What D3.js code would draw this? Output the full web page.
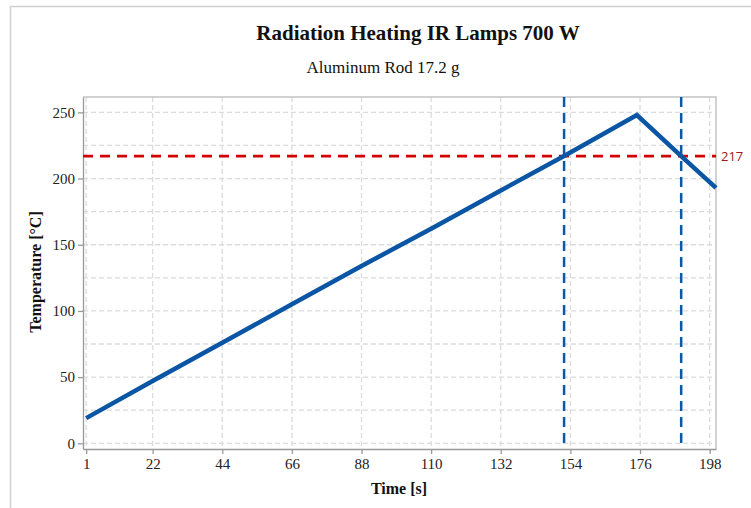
<!DOCTYPE html>
<meta charset="utf-8">
<style>
body { margin: 0; background: #fff; }
.grid line { stroke: #dcdcdc; stroke-width: 1.3; stroke-dasharray: 5,3; }
.axis text { font: 15px "Liberation Serif", serif; fill: #222; }
.axis path, .axis line { stroke: #999; stroke-width: 1.3; }
.title { font: bold 21px "Liberation Serif", serif; fill: #111; }
.subtitle { font: 17px "Liberation Serif", serif; fill: #111; }
.label { font: bold 16px "Liberation Serif", serif; fill: #111; }
</style>
<body>
<svg id="chart" width="751" height="508"></svg>
<script src="https://cdn.jsdelivr.net/npm/d3@7"></script>
<script>
// values
var times = [1, 22, 44, 66, 88, 110, 132, 152, 175, 189, 200];
var temps = [19, 47, 76, 105, 134, 162, 191, 217, 248, 217, 193];
var xTicks = [1, 22, 44, 66, 88, 110, 132, 154, 176, 198];
var yTicks = [0, 50, 100, 150, 200, 250];
var yGrid = [0, 25, 50, 75, 100, 125, 150, 175, 200, 225, 250];
var limitTemp = 217;
var crossTimes = [152, 189];

var svg = d3.select("#chart");
var plotL = 83, plotR = 716, plotT = 97, plotB = 449;

var x = d3.scaleLinear().domain([0, 200]).range([plotL, plotR]);
var y = d3.scaleLinear().domain([-4.3, 261.6]).range([plotB, plotT]);

// outer frame
svg.append("path").attr("d", "M10.5,508 V6.5 H751")
    .attr("fill", "none").attr("stroke", "#d0d0d0").attr("stroke-width", 1.5);

// grid
var grid = svg.append("g").attr("class", "grid");
grid.selectAll(".h").data(yGrid).enter().append("line")
    .attr("x1", plotL).attr("x2", plotR)
    .attr("y1", function(d) { return y(d); }).attr("y2", function(d) { return y(d); });
grid.selectAll(".v").data(xTicks).enter().append("line")
    .attr("y1", plotT).attr("y2", plotB)
    .attr("x1", function(d) { return x(d); }).attr("x2", function(d) { return x(d); });

// plot border (top/right)
svg.append("path").attr("d", "M" + plotL + "," + plotT + " H" + plotR + " V" + plotB)
    .attr("fill", "none").attr("stroke", "#c4c4c4").attr("stroke-width", 1.5);

// axes
svg.append("g").attr("class", "axis")
    .attr("transform", "translate(0," + plotB + ")")
    .call(d3.axisBottom(x).tickValues(xTicks).tickSize(5).tickSizeOuter(0).tickPadding(4));
svg.append("g").attr("class", "axis")
    .attr("transform", "translate(" + plotL + ",0)")
    .call(d3.axisLeft(y).tickValues(yTicks).tickSize(5).tickSizeOuter(0).tickPadding(3));

// limit line
svg.append("line")
    .attr("x1", plotL).attr("x2", plotR)
    .attr("y1", y(limitTemp)).attr("y2", y(limitTemp))
    .attr("stroke", "#d40000").attr("stroke-width", 2.7).attr("stroke-dasharray", "10,7");
svg.append("text")
    .attr("x", 721).attr("y", y(limitTemp) + 5)
    .style("font", "13px 'Open Sans', sans-serif").style("fill", "#a01818")
    .text(limitTemp);

// crossing markers
svg.selectAll(".cross").data(crossTimes).enter().append("line")
    .attr("x1", function(d) { return x(d); }).attr("x2", function(d) { return x(d); })
    .attr("y1", plotT).attr("y2", plotB)
    .attr("stroke", "#0a58a8").attr("stroke-width", 2.5).attr("stroke-dasharray", "10,6");

// data
var line = d3.line().x(function(d, i) { return x(times[i]); }).y(function(d) { return y(d); });
svg.append("path").datum(temps)
    .attr("d", line)
    .attr("fill", "none").attr("stroke", "#0a56a4").attr("stroke-width", 4.5)
    .attr("stroke-linejoin", "miter");

// texts
svg.append("text").attr("class", "title").attr("x", 418).attr("y", 40)
    .attr("text-anchor", "middle").text("Radiation Heating IR Lamps 700 W");
svg.append("text").attr("class", "subtitle").attr("x", 383).attr("y", 73)
    .attr("text-anchor", "middle").text("Aluminum Rod 17.2 g");
svg.append("text").attr("class", "label").attr("x", 399).attr("y", 494)
    .attr("text-anchor", "middle").text("Time [s]");
svg.append("text").attr("class", "label")
    .attr("transform", "translate(41,272) rotate(-90)")
    .attr("text-anchor", "middle").text("Temperature [\u00b0C]");
</script>
</body>
